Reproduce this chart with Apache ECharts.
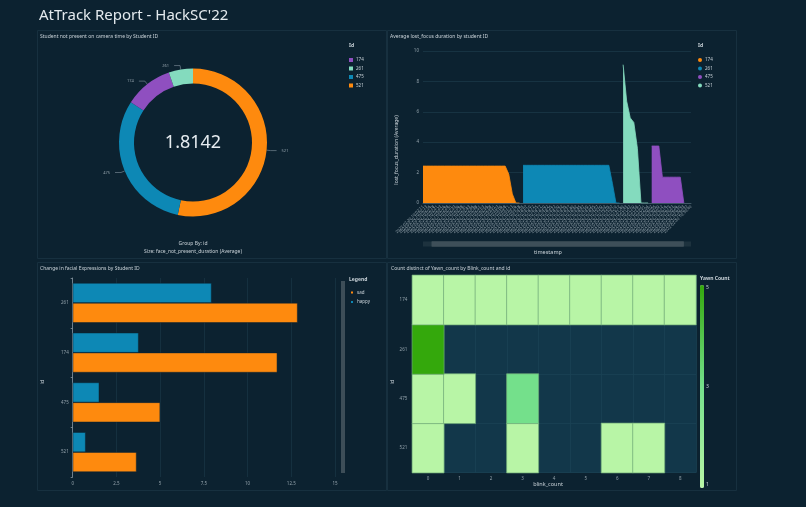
<!DOCTYPE html>
<html>
<head>
<meta charset="utf-8">
<script src="https://cdn.jsdelivr.net/npm/echarts@6/dist/echarts.min.js"></script>
<style>
  html, body { margin: 0; padding: 0; background: #0c2230; }
  #main { width: 806px; height: 507px; }
</style>
</head>
<body>
<div id="main"></div>
<script>
// ---------- DATA ----------
const pageTitle = "AtTrack Report - HackSC'22";

// Panel 1: donut
const pieIds = ['521', '475', '174', '261'];
const pieValues = [0.967, 0.559, 0.192, 0.096];
const pieCenterValue = 1.8142;
const pieLegendOrder = ['174', '261', '475', '521'];

// Panel 2: lost focus areas
const timestamps = (
  '10:02:11 10:02:13 10:02:16 10:02:18 10:02:21 10:02:23 10:02:26 10:02:28 10:02:31 10:02:33 ' +
  '10:02:36 10:02:38 10:02:41 10:02:43 10:02:46 10:02:48 10:02:51 10:02:53 10:02:56 10:02:58 ' +
  '10:03:01 10:03:03 10:03:06 10:03:08 10:03:11 10:03:13 10:03:16 10:03:18 ' +
  '10:14:05 10:14:07 10:14:10 10:14:12 10:14:15 10:14:17 10:14:20 10:14:22 10:14:25 10:14:27 ' +
  '10:14:30 10:14:32 10:14:35 10:14:37 10:14:40 10:14:42 10:14:45 10:14:47 10:14:50 10:14:52 ' +
  '10:14:55 10:14:57 10:15:00 10:15:02 10:15:05 10:15:07 10:15:10 10:15:12 ' +
  '10:21:40 10:21:43 10:21:47 10:21:50 10:21:54 10:21:57 10:22:01 10:22:04 ' +
  '10:30:02 10:30:05 10:30:09 10:30:12 10:30:16 10:30:19 10:30:23 10:30:26 10:30:30 10:30:33 10:30:37 10:30:40'
).split(' ').map(t => '2022-02-20 ' + t);

const N = null;
const focus174 = [2.43,2.43,2.43,2.43,2.43,2.43,2.43,2.43,2.43,2.43,2.43,2.43,2.43,2.43,2.43,2.43,2.43,2.43,2.43,2.43,2.43,2.43,2.43,2.43,1.9,0.6,0,0,
  N,N,N,N,N,N,N,N,N,N,N,N,N,N,N,N,N,N,N,N,N,N,N,N,N,N,N,N,N,N,N,N,N,N,N,N,N,N,N,N,N,N,N,N,N,N,N,N];
const focus261 = [N,N,N,N,N,N,N,N,N,N,N,N,N,N,N,N,N,N,N,N,N,N,N,N,N,N,N,N,
  2.48,2.48,2.48,2.48,2.48,2.48,2.48,2.48,2.48,2.48,2.48,2.48,2.48,2.48,2.48,2.48,2.48,2.48,2.48,2.48,2.48,2.48,2.48,2.48,2.48,1.3,0,0,
  N,N,N,N,N,N,N,N,N,N,N,N,N,N,N,N,N,N,N,N];
const focus521 = [N,N,N,N,N,N,N,N,N,N,N,N,N,N,N,N,N,N,N,N,N,N,N,N,N,N,N,N,
  N,N,N,N,N,N,N,N,N,N,N,N,N,N,N,N,N,N,N,N,N,N,N,N,N,N,N,N,
  9.1,6.7,5.6,5.3,3.6,0,0,0,
  N,N,N,N,N,N,N,N,N,N,N,N];
const focus475 = [N,N,N,N,N,N,N,N,N,N,N,N,N,N,N,N,N,N,N,N,N,N,N,N,N,N,N,N,
  N,N,N,N,N,N,N,N,N,N,N,N,N,N,N,N,N,N,N,N,N,N,N,N,N,N,N,N,
  N,N,N,N,N,N,N,N,
  3.75,3.75,3.75,1.7,1.7,1.7,1.7,1.7,1.7,0,N,N];

// Panel 3: facial expressions
const exprIds = ['521', '475', '174', '261'];
const exprSad = [3.65, 5.0, 11.7, 12.86];
const exprHappy = [0.74, 1.52, 3.77, 7.94];
const exprTicks = [0, 2.5, 5, 7.5, 10, 12.5, 15];

// Panel 4: heatmap
const blinkCounts = ['0','1','2','3','4','5','6','7','8'];
const heatIds = ['521', '475', '261', '174'];
const yawn174 = [1, 1, 1, 1, 1, 1, 1, 1, 1];
const yawn261 = [5, N, N, N, N, N, N, N, N];
const yawn475 = [1, 1, N, 3, N, N, N, N, N];
const yawn521 = [1, N, N, 1, N, N, 1, 1, N];
const yawnTicks = [5, 3, 1];

// ---------- STYLE ----------
const FONT = 'Noto Sans';
const C_ORANGE = '#fe8a0e', C_BLUE = '#0d88b5', C_PURPLE = '#8f4fc0', C_TEAL = '#84dbbe';
const txt = '#c9d2d8', sub = '#93a2ab';

const heatRows = { '174': yawn174, '261': yawn261, '475': yawn475, '521': yawn521 };
const heatData = [];
heatIds.forEach(id => heatRows[id].forEach((v, x) => { if (v !== null) heatData.push([x, id, v]); }));

const pieColorMap = { '521': C_ORANGE, '475': C_BLUE, '174': C_PURPLE, '261': C_TEAL };

const chart = echarts.init(document.getElementById('main'), null, { renderer: 'canvas' });

const vmTop = 285, vmH = 203, vmLeft = 700;

function t(x, y, text, size, opts, bold) {
  return { type: 'text', x: x, y: y, z: 10,
    style: Object.assign({ text: text, fill: txt, font: (bold ? 'bold ' : '') + size + 'px ' + FONT }, opts || {}) };
}

const graphics = [
  { type: 'rect', shape: { x: 37.5, y: 30.5, width: 349, height: 228 }, style: { fill: 'none', stroke: '#17303f', lineWidth: 1 } },
  { type: 'rect', shape: { x: 387.5, y: 30.5, width: 349, height: 228 }, style: { fill: 'none', stroke: '#17303f', lineWidth: 1 } },
  { type: 'rect', shape: { x: 37.5, y: 262.5, width: 349, height: 228 }, style: { fill: 'none', stroke: '#17303f', lineWidth: 1 } },
  { type: 'rect', shape: { x: 387.5, y: 262.5, width: 349, height: 228 }, style: { fill: 'none', stroke: '#17303f', lineWidth: 1 } },
  t(193, 142.5, String(pieCenterValue), 18, { align: 'center', verticalAlign: 'middle', fill: '#e6ecf0' }),
  t(193, 244, 'Group By: id', 5, { align: 'center', verticalAlign: 'middle' }),
  t(193, 251.5, 'Size: face_not_present_duration (Average)', 5, { align: 'center', verticalAlign: 'middle' }),
  t(349, 46, 'Id', 5, { verticalAlign: 'middle' }, true),
  t(698, 46, 'Id', 5, { verticalAlign: 'middle' }, true),
  Object.assign(t(397, 150, 'lost_focus_duration (Average)', 5, { align: 'center', verticalAlign: 'middle' }), { rotation: Math.PI / 2 }),
  t(548, 252.5, 'timestamp', 5.5, { align: 'center', verticalAlign: 'middle' }),
  { type: 'rect', shape: { x: 423, y: 241.5, width: 268, height: 5 }, style: { fill: '#1d323e' }, z: 1 },
  Object.assign(t(43, 382, 'id', 5, { align: 'center', verticalAlign: 'middle' }), { rotation: Math.PI / 2 }),
  t(349, 279.5, 'Legend', 5, { verticalAlign: 'middle' }, true),
  { type: 'rect', shape: { x: 341, y: 281, width: 4, height: 192 }, style: { fill: '#3d4e58' } },
  t(700, 278.5, 'Yawn Count', 5, { verticalAlign: 'middle' }, true),
  Object.assign(t(393, 382, 'id', 5, { align: 'center', verticalAlign: 'middle' }), { rotation: Math.PI / 2 }),
  t(548, 484.5, 'blink_count', 5.5, { align: 'center', verticalAlign: 'middle' })
];
yawnTicks.forEach(v => {
  const y = vmTop + (5 - v) / 4 * vmH;
  graphics.push(t(vmLeft + 6, y + (v === 5 ? 3 : v === 1 ? -3 : 0), String(v), 5, { verticalAlign: 'middle' }));
});

const lineSeries = (name, data, color) => ({
  type: 'line', name: name, data: data, xAxisIndex: 0, yAxisIndex: 0,
  showSymbol: false, symbol: 'none', connectNulls: false,
  lineStyle: { width: 0.8, color: color }, itemStyle: { color: color },
  areaStyle: { color: color, opacity: 1 }
});

const option = {
  backgroundColor: '#0c2230',
  textStyle: { fontFamily: FONT },
  animation: false,
  title: [
    { text: pageTitle, left: 39, top: 8, padding: 0, textStyle: { color: '#e4eaee', fontSize: 15, fontWeight: 'normal', fontFamily: FONT } },
    { text: 'Student not present on camera time by Student ID', left: 40, top: 34, padding: 0, textStyle: { color: txt, fontSize: 5, fontWeight: 'normal' } },
    { text: 'Average lost_focus duration by student ID', left: 390, top: 34, padding: 0, textStyle: { color: txt, fontSize: 5, fontWeight: 'normal' } },
    { text: 'Change in facial Expressions by Student ID', left: 40, top: 266, padding: 0, textStyle: { color: txt, fontSize: 5, fontWeight: 'normal' } },
    { text: 'Count distinct of Yawn_count by Blink_count and id', left: 391, top: 266, padding: 0, textStyle: { color: txt, fontSize: 5, fontWeight: 'normal' } }
  ],
  legend: [
    { data: pieLegendOrder, orient: 'vertical', left: 349, top: 57.5, padding: 0, icon: 'rect', itemWidth: 4, itemHeight: 4, itemGap: 3.5,
      selectedMode: false, textStyle: { color: txt, fontSize: 4.5, padding: [0, 0, 0, -2] } },
    { data: ['lf-174', 'lf-261', 'lf-475', 'lf-521'], orient: 'vertical', left: 698, top: 57.5, padding: 0, icon: 'circle', itemWidth: 4, itemHeight: 4, itemGap: 3.5,
      selectedMode: false, formatter: n => n.replace('lf-', ''), textStyle: { color: txt, fontSize: 4.5, padding: [0, 0, 0, -2] } },
    { data: ['sad', 'happy'], orient: 'vertical', left: 349, top: 289.5, padding: 0, icon: 'rect', itemWidth: 4, itemHeight: 4, itemGap: 3.5,
      selectedMode: false, textStyle: { color: txt, fontSize: 4.5, padding: [0, 0, 0, -2] } }
  ],
  grid: [
    { left: 423, top: 51, width: 268, height: 152, containLabel: false },
    { left: 72.7, top: 278, width: 262.3, height: 199, containLabel: false },
    { left: 412.3, top: 275.3, width: 283.7, height: 197.4, containLabel: false, show: true, backgroundColor: '#12374a', borderWidth: 0 }
  ],
  xAxis: [
    { type: 'category', gridIndex: 0, data: timestamps, boundaryGap: false,
      axisLine: { lineStyle: { color: '#4d6270', width: 0.8 } }, axisTick: { show: false },
      axisLabel: { rotate: 45, interval: 0, fontSize: 4, color: sub, margin: 3 } },
    { type: 'value', gridIndex: 1, min: 0, max: 15, interval: 2.5,
      axisLine: { show: false }, axisTick: { show: false },
      axisLabel: { fontSize: 4.5, color: sub, margin: 4, formatter: v => exprTicks.includes(v) ? String(v) : '' },
      splitLine: { lineStyle: { color: '#183444', width: 0.8 } } },
    { type: 'category', gridIndex: 2, data: blinkCounts,
      axisLine: { show: false }, axisTick: { show: false },
      axisLabel: { fontSize: 4.5, color: sub, margin: 4 },
      splitLine: { show: true, lineStyle: { color: '#1a4154', width: 0.8 } } }
  ],
  yAxis: [
    { type: 'value', gridIndex: 0, min: 0, max: 10, interval: 2,
      axisLine: { show: false }, axisTick: { show: false },
      axisLabel: { fontSize: 4.5, color: sub, margin: 4 },
      splitLine: { lineStyle: { color: '#1b3747', width: 0.8 } } },
    { type: 'category', gridIndex: 1, data: exprIds,
      axisLine: { show: true, lineStyle: { color: '#8594a0', width: 0.8 } },
      axisTick: { show: true, length: 2, lineStyle: { color: '#8594a0', width: 0.8 } },
      axisLabel: { fontSize: 4.5, color: sub, margin: 4 } },
    { type: 'category', gridIndex: 2, data: heatIds,
      axisLine: { show: false }, axisTick: { show: false },
      axisLabel: { fontSize: 4.5, color: sub, margin: 5 },
      splitLine: { show: true, lineStyle: { color: '#1a4154', width: 0.8 } } }
  ],
  dataZoom: [
    { type: 'slider', xAxisIndex: 0, left: 431, top: 241.5, width: 252, height: 5, start: 0, end: 100,
      showDetail: false, showDataShadow: false, brushSelect: false, zoomLock: true,
      backgroundColor: '#3e4f59', fillerColor: '#3e4f59', borderColor: 'rgba(0,0,0,0)',
      handleSize: '100%', handleStyle: { color: 'rgba(0,0,0,0)', borderColor: 'rgba(0,0,0,0)' },
      moveHandleSize: 0, moveHandleStyle: { opacity: 0 },
      emphasis: { handleStyle: { color: 'rgba(0,0,0,0)', borderColor: 'rgba(0,0,0,0)' }, moveHandleStyle: { opacity: 0 } } }
  ],
  visualMap: [
    { type: 'continuous', min: 1, max: 5, seriesIndex: 7, left: vmLeft, top: vmTop, itemWidth: 4, itemHeight: vmH,
      calculable: false, padding: 0, text: null, hoverLink: false,
      inRange: { color: ['#b8f5a6', '#74e08b', '#34a80c'] } }
  ],
  series: [
    { type: 'pie', center: [193, 142.5], radius: [59, 74], startAngle: 90, clockwise: true,
      data: pieIds.map((id, i) => ({ name: id, value: pieValues[i], itemStyle: { color: pieColorMap[id] } })),
      label: { show: true, position: 'outside', fontSize: 4, color: sub, formatter: '{b}' },
      labelLine: { show: true, length: 4, length2: 6, lineStyle: { color: '#8594a0', width: 0.6 } },
      emphasis: { disabled: true } },
    lineSeries('lf-174', focus174, C_ORANGE),
    lineSeries('lf-261', focus261, C_BLUE),
    lineSeries('lf-521', focus521, C_TEAL),
    lineSeries('lf-475', focus475, C_PURPLE),
    { type: 'bar', name: 'happy', data: exprHappy, xAxisIndex: 1, yAxisIndex: 1, barGap: '0%', barCategoryGap: '20%',
      itemStyle: { color: C_BLUE, borderColor: '#0c2230', borderWidth: 0.5 } },
    { type: 'bar', name: 'sad', data: exprSad, xAxisIndex: 1, yAxisIndex: 1, barGap: '0%', barCategoryGap: '20%',
      itemStyle: { color: C_ORANGE, borderColor: '#0c2230', borderWidth: 0.5 } },
    { type: 'heatmap', data: heatData, xAxisIndex: 2, yAxisIndex: 2,
      itemStyle: { borderColor: '#6fa877', borderWidth: 0.7 }, emphasis: { disabled: true } }
  ],
  graphic: graphics
};

chart.setOption(option);
</script>
</body>
</html>
